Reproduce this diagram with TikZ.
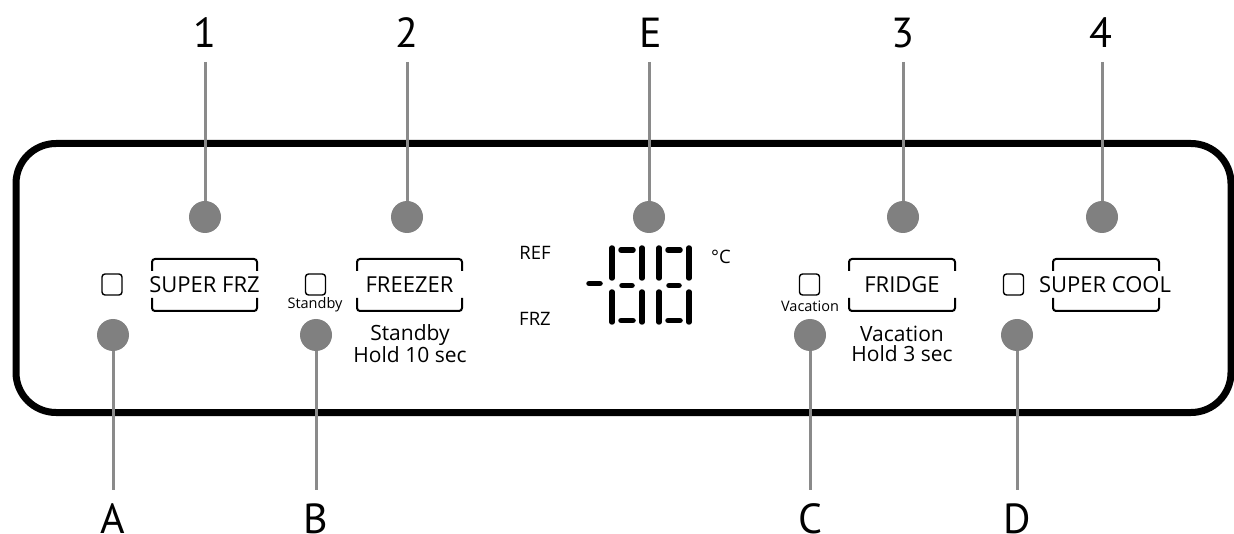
\documentclass[tikz,border=0pt]{standalone}
\usepackage{fontspec}
\setmainfont{Open Sans}
\newfontfamily\lblfont{PT Sans}
\definecolor{dotgray}{HTML}{808080}
\definecolor{leadgray}{HTML}{8A8A8A}
\begin{document}
\begin{tikzpicture}[x=1pt,y=-1pt,
  lbl/.style={font=\lblfont\fontsize{42}{46}\selectfont, inner sep=0pt, anchor=center},
  dot/.style={circle, fill=dotgray, minimum size=32pt, inner sep=0pt},
  lead/.style={draw=leadgray, line width=3pt},
  panel/.style={line width=7pt, rounded corners=40pt},
  btn/.style={font=\fontsize{22}{26}\selectfont, inner sep=0pt},
  small/.style={font=\fontsize{14.5}{17}\selectfont, inner sep=0pt},
  hold/.style={font=\fontsize{21}{20}\selectfont, inner sep=0pt, align=center},
  disp/.style={font=\fontsize{18.5}{20}\selectfont, inner sep=0pt},
  brk/.style={line width=2pt, rounded corners=3pt},
  sq/.style={draw, line width=1.4pt, rounded corners=3pt, minimum width=20pt, minimum height=21pt, inner sep=0pt},
  seg/.style={line width=5.5pt, line cap=round}]
\useasboundingbox (0,0) rectangle (1234,534);
% panel
\draw[panel] (16,143.5) rectangle (1231,412.5);
% top labels
\node[lbl] (l1) at (205,33) {1};
\node[lbl] (l2) at (407,33) {2};
\node[lbl] (lE) at (651,33) {E};
\node[lbl] (l3) at (903,33) {3};
\node[lbl] (l4) at (1101,33) {4};
% bottom labels
\node[lbl] (lA) at (113,519) {A};
\node[lbl] (lB) at (316,519) {B};
\node[lbl] (lC) at (810,519) {C};
\node[lbl] (lD) at (1017,519) {D};
% dots
\node[dot] (d1) at (205,217) {};
\node[dot] (d2) at (407,217) {};
\node[dot] (dE) at (649,217) {};
\node[dot] (d3) at (903,217) {};
\node[dot] (d4) at (1102,217) {};
\node[dot] (dA) at (113,335) {};
\node[dot] (dB) at (316,335) {};
\node[dot] (dC) at (810,335) {};
\node[dot] (dD) at (1017,335) {};
% lead ends
\coordinate (t1) at (205,62);
\coordinate (t2) at (407,62);
\coordinate (tE) at (649,62);
\coordinate (t3) at (903,62);
\coordinate (t4) at (1102,62);
\coordinate (bA) at (113,490);
\coordinate (bB) at (316,490);
\coordinate (bC) at (810,490);
\coordinate (bD) at (1017,490);
\draw[lead] (t1) -- (d1);
\draw[lead] (t2) -- (d2);
\draw[lead] (tE) -- (dE);
\draw[lead] (t3) -- (d3);
\draw[lead] (t4) -- (d4);
\draw[lead] (dA) -- (bA);
\draw[lead] (dB) -- (bB);
\draw[lead] (dC) -- (bC);
\draw[lead] (dD) -- (bD);
% buttons
\node[btn] (superfrz) at (204.5,285) {SUPER FRZ};
\node[btn] (freezer) at (409.5,285) {FREEZER};
\node[btn] (fridge) at (902,285) {FRIDGE};
\node[btn] (supercool) at (1105,285) {SUPER COOL};
\foreach \xa/\xb in {152/257, 357/462, 849/955, 1053/1159}{
  \draw[brk] (\xa,271) -- (\xa,259) -- (\xb,259) -- (\xb,271);
  \draw[brk] (\xa,298) -- (\xa,311) -- (\xb,311) -- (\xb,298);
}
% indicator squares
\node[sq] (sqA) at (112,284.5) {};
\node[sq] (sqB) at (315.5,284.5) {};
\node[sq] (sqC) at (809.5,284.5) {};
\node[sq] (sqD) at (1013.5,284.5) {};
\node[small] (stb) at (315,305) {Standby};
\node[small] (vac) at (810,306) {Vacation};
\node[hold] (hold10) at (410,344) {Standby\\Hold 10 sec};
\node[hold] (hold3) at (902,344) {Vacation\\Hold 3 sec};
% display
\node[disp] (ref) at (535,253) {REF};
\node[disp] (frz) at (535,319) {FRZ};
\node[disp] (degc) at (721,257) {°C};
\draw[seg] (589,283.5) -- (600,283.5);
\foreach \x in {609,656}{
  \draw[seg] (\x+12,250) -- (\x+24,250);
  \draw[seg] (\x+3,248) -- (\x+3,278);
  \draw[seg] (\x+33,248) -- (\x+33,278);
  \draw[seg] (\x+13,285.5) -- (\x+23,285.5);
  \draw[seg] (\x+3,292) -- (\x+3,322);
  \draw[seg] (\x+33,292) -- (\x+33,322);
  \draw[seg] (\x+12,320.5) -- (\x+24,320.5);
}
\end{tikzpicture}
\end{document}
